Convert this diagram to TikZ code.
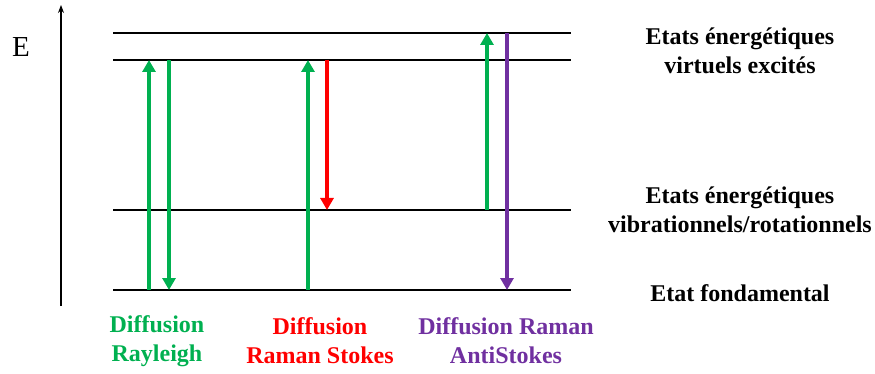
\documentclass[tikz,border=0pt]{standalone}
\usepackage{fontspec}
\setmainfont{Liberation Serif}
\usetikzlibrary{arrows.meta,positioning}
\definecolor{raygreen}{RGB}{0,176,80}
\definecolor{stokesred}{RGB}{255,0,0}
\definecolor{antipurple}{RGB}{112,48,160}

\begin{document}
\begin{tikzpicture}[x=1pt,y=-1pt,
  level/.style={line width=1.6pt},
  photon/.style={line width=3.6pt,-{Triangle[width=13pt,length=12pt]}},
  lbl/.style={font=\bfseries\fontsize{24}{29}\selectfont,align=center}]
  \pgfmathsetmacro {\xa}{113} %left end of levels
  \pgfmathsetmacro {\xb}{571} %right end of levels
  \pgfmathsetmacro {\yv}{33}  %upper virtual level
  \pgfmathsetmacro {\yw}{60}  %lower virtual level
  \pgfmathsetmacro {\yr}{210} %vibrational level
  \pgfmathsetmacro {\yg}{290} %ground level

  \useasboundingbox (0,0) rectangle (875,374);

  %Energy axis
  \coordinate (axb) at (61,306);
  \coordinate (axt) at (61,5);
  \draw[line width=1.1pt,-{Stealth[length=8pt,width=6pt]}] (axb) -- (axt);
  \node[font=\fontsize{29}{29}\selectfont] (E) at (21,47) {E};

  %Energy levels
  \coordinate (v1l) at (\xa,\yv); \coordinate (v1r) at (\xb,\yv);
  \coordinate (v2l) at (\xa,\yw); \coordinate (v2r) at (\xb,\yw);
  \coordinate (rl) at (\xa,\yr);  \coordinate (rr) at (\xb,\yr);
  \coordinate (gl) at (\xa,\yg);  \coordinate (gr) at (\xb,\yg);
  \draw[level] (v1l) -- (v1r); %virtual 1
  \draw[level] (v2l) -- (v2r); %virtual 2
  \draw[level] (rl) -- (rr);   %vibrational
  \draw[level] (gl) -- (gr);   %ground

  %Rayleigh
  \coordinate (ray1b) at (149,\yg); \coordinate (ray1t) at (149,\yw);
  \coordinate (ray2t) at (169,\yw); \coordinate (ray2b) at (169,\yg);
  \draw[photon,raygreen] (ray1b) -- (ray1t);
  \draw[photon,raygreen] (ray2t) -- (ray2b);

  %Raman Stokes
  \coordinate (sto1b) at (308,\yg); \coordinate (sto1t) at (308,\yw);
  \coordinate (sto2t) at (327,\yw); \coordinate (sto2b) at (327,\yr);
  \draw[photon,raygreen] (sto1b) -- (sto1t);
  \draw[photon,stokesred] (sto2t) -- (sto2b);

  %Raman AntiStokes
  \coordinate (ant1b) at (487,\yr); \coordinate (ant1t) at (487,\yv);
  \coordinate (ant2t) at (507,\yv); \coordinate (ant2b) at (507,\yg);
  \draw[photon,raygreen] (ant1b) -- (ant1t);
  \draw[photon,antipurple] (ant2t) -- (ant2b);

  %Process labels
  \node[lbl,raygreen] (rayl) at (157,341) {Diffusion\\Rayleigh};
  \node[lbl,stokesred] (stol) at (320,341) {Diffusion\\Raman Stokes};
  \node[lbl,antipurple] (antl) at (506,341) {Diffusion Raman\\AntiStokes};

  %Level labels
  \node[lbl] (virt) at (740,51) {Etats énergétiques\\virtuels excités};
  \node[lbl] (vib) at (740,210) {Etats énergétiques\\vibrationnels/rotationnels};
  \node[lbl] (fond) at (740,293) {Etat fondamental};
\end{tikzpicture}
\end{document}
